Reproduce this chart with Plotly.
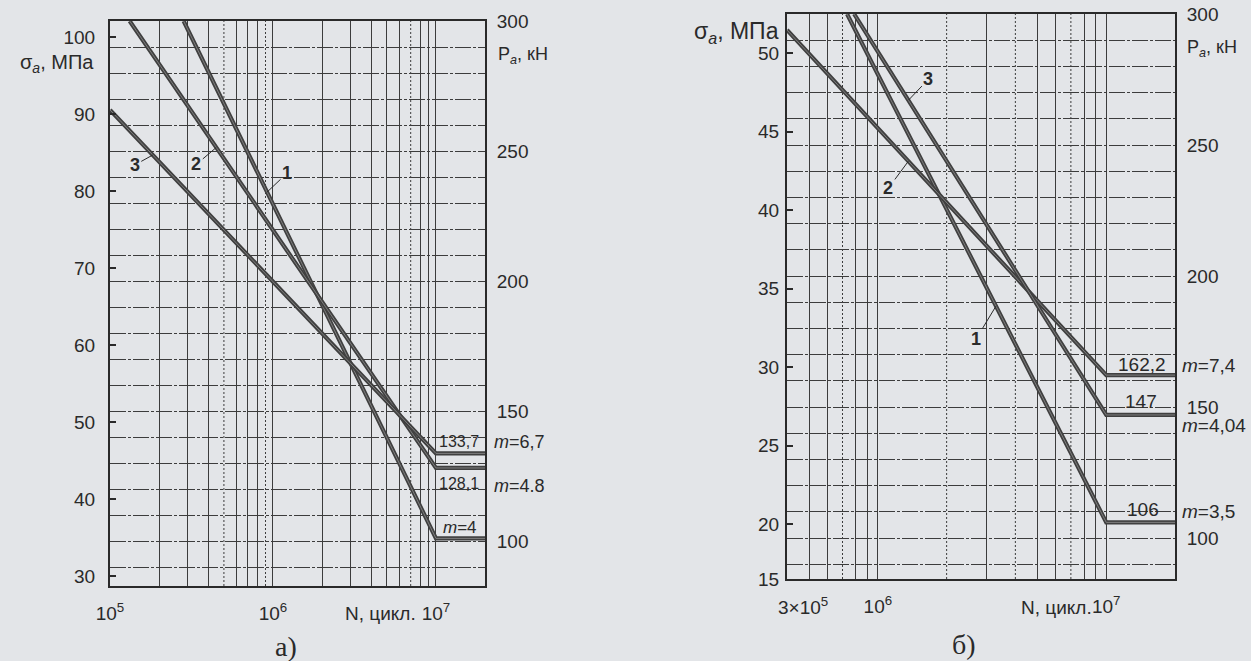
import numpy as np
import plotly.graph_objects as go

W, H = 1251, 661

# ---------------- data: chart a) ----------------
a_curve_labels = ["1", "2", "3"]
a_N_start = [2.83e5, 1.32e5, 1.0e5]
a_P_start = [300.0, 300.0, 265.8]
a_N_knee = [1e7, 1e7, 1e7]
a_P_knee = [101.0, 128.1, 133.7]
a_N_end = 2e7
a_x_range = [1e5, 2e7]
a_sigma_range = [28.7, 102.1]
a_P_range = [82.7, 300.0]
a_sigma_ticks = [30, 40, 50, 60, 70, 80, 90, 100]
a_P_grid = list(range(90, 301, 10))
a_P_labels = [100, 150, 200, 250, 300]
a_x_grid_solid = [2e5, 3e5, 4e5, 6e5, 7e5, 8e5, 1e6, 2e6, 3e6, 4e6, 5e6, 6e6, 8e6, 9e6, 1e7]
a_x_grid_dotted = [5e5, 9e5, 7e6]
a_x_labels = {1e5: "10<sup>5</sup>", 1e6: "10<sup>6</sup>", 1e7: "10<sup>7</sup>"}
a_leader_N = [9.2e5, 4.49e5, 1.83e5]
a_leader_off = [(20, -19), (-20, 17), (-18, 10)]

# ---------------- data: chart б) ----------------
b_curve_labels = ["1", "2", "3"]
b_N_start = [7.33e5, 4.0e5, 7.87e5]
b_P_start = [300.0, 293.9, 300.0]
b_N_knee = [1e7, 1e7, 1e7]
b_P_knee = [106.0, 162.2, 147.0]
b_N_end = 2e7
b_x_range = [4e5, 2e7]
b_sigma_range = [16.5, 52.5]
b_P_range = [84.4, 300.0]
b_sigma_tickvals = [16.5, 20, 25, 30, 35, 40, 45, 50]
b_sigma_ticktext = ["15", "20", "25", "30", "35", "40", "45", "50"]
b_P_grid = list(range(90, 301, 10))
b_P_labels = [100, 150, 200, 250, 300]
b_x_grid_solid = [5e5, 6e5, 8e5, 9e5, 1e6, 3e6, 5e6, 6e6, 8e6, 9e6, 1e7]
b_x_grid_dotted = [7e5, 2e6, 4e6, 7e6]
b_x_labels = {1e6: "10<sup>6</sup>", 1e7: "10<sup>7</sup>"}
b_leader_N = [3.29e6, 1.36e6, 1.36e6]
b_leader_off = [(-20, 33), (-20, 27), (20, -21)]

# ---------------- style ----------------
BG = "#e3e5e8"
INK = "#2a2a2a"
GRID = "#3c3c3c"
CURVE = "#404040"
CORE = "#7e7e7e"
FONT = "Liberation Sans, Arial, sans-serif"
HDASH = "16px,2px,3px,2px"

def px(xp):
    return xp / W

def py(yp):
    return 1 - yp / H

fig = go.Figure()

# invisible anchors so the σ axes exist as subplots
fig.add_trace(go.Scatter(x=a_x_range, y=a_sigma_range, mode="markers", xaxis="x", yaxis="y",
                         marker=dict(opacity=0, size=1), showlegend=False, hoverinfo="skip"))
fig.add_trace(go.Scatter(x=b_x_range, y=b_sigma_range, mode="markers", xaxis="x2", yaxis="y3",
                         marker=dict(opacity=0, size=1), showlegend=False, hoverinfo="skip"))

def add_curves(N0s, P0s, Nks, Pks, Nend, xa, ya):
    for N0, P0, Nk, Pk in zip(N0s, P0s, Nks, Pks):
        xs = [N0, Nk, Nend]
        ys = [P0, Pk, Pk]
        fig.add_trace(go.Scatter(x=xs, y=ys, mode="lines", xaxis=xa, yaxis=ya,
                                 line=dict(color=CURVE, width=4.2), showlegend=False,
                                 hoverinfo="skip"))
        fig.add_trace(go.Scatter(x=xs, y=ys, mode="lines", xaxis=xa, yaxis=ya,
                                 line=dict(color=CORE, width=1), showlegend=False,
                                 hoverinfo="skip"))

add_curves(a_N_start, a_P_start, a_N_knee, a_P_knee, a_N_end, "x", "y2")
add_curves(b_N_start, b_P_start, b_N_knee, b_P_knee, b_N_end, "x2", "y4")

def interp_P(N, N0, P0, N1, P1):
    t = (np.log10(N) - np.log10(N0)) / (np.log10(N1) - np.log10(N0))
    return P0 + t * (P1 - P0)

tickfont = dict(family=FONT, size=19, color=INK)
dom_a_x = [px(110), px(485)]
dom_a_y = [py(586), py(21)]
dom_b_x = [px(787), px(1175)]
dom_b_y = [py(579), py(14)]

def xaxis_def(dom, rng, solid, labels, anchor):
    vals = sorted(labels.keys())
    minor_vals = [v for v in solid if v not in labels]
    return dict(type="log", domain=dom, range=[np.log10(rng[0]), np.log10(rng[1])],
                anchor=anchor, tickmode="array", tickvals=vals,
                ticktext=[labels[v] for v in vals],
                showgrid=True, gridcolor=GRID, gridwidth=1.2, automargin=False,
                showline=True, mirror=True, linecolor=INK, linewidth=2,
                ticks="", tickfont=tickfont, ticklabelstandoff=9, zeroline=False,
                minor=dict(tickmode="array", tickvals=minor_vals, showgrid=True,
                           gridcolor=GRID, gridwidth=1.2, ticks=""))

def yP_def(rng, grid, labels, overlay, anchor):
    return dict(range=rng, overlaying=overlay, side="right", anchor=anchor,
                tickmode="array", tickvals=labels, automargin=False,
                showgrid=True, gridcolor=GRID, gridwidth=1.1, griddash=HDASH,
                minor=dict(tickmode="array", tickvals=[g for g in grid if g not in labels],
                           showgrid=True, gridcolor=GRID, gridwidth=1.1, griddash=HDASH,
                           ticks=""),
                showline=True, linecolor=INK, linewidth=2, ticks="",
                tickfont=tickfont, ticklabelstandoff=6, zeroline=False)

fig.update_layout(
    width=W, height=H, margin=dict(l=0, r=0, t=0, b=0, autoexpand=False),
    paper_bgcolor=BG, plot_bgcolor=BG, showlegend=False,
    xaxis=xaxis_def(dom_a_x, a_x_range, a_x_grid_solid, a_x_labels, "y"),
    yaxis=dict(domain=dom_a_y, range=a_sigma_range, anchor="x", tickmode="array",
               tickvals=a_sigma_ticks, showgrid=False, ticks="inside", ticklen=6,
               tickwidth=2, tickcolor=INK, showline=True, linecolor=INK, linewidth=2,
               tickfont=tickfont, ticklabelstandoff=9, zeroline=False, automargin=False),
    yaxis2=yP_def(a_P_range, a_P_grid, a_P_labels, "y", "x"),
    xaxis2=xaxis_def(dom_b_x, b_x_range, b_x_grid_solid, b_x_labels, "y3"),
    yaxis3=dict(domain=dom_b_y, range=b_sigma_range, anchor="x2", tickmode="array",
                tickvals=b_sigma_tickvals, ticktext=b_sigma_ticktext, showgrid=False,
                ticks="inside", ticklen=6, tickwidth=1.5, tickcolor=INK, showline=True,
                linecolor=INK, linewidth=2, tickfont=tickfont, ticklabelstandoff=2,
                zeroline=False, automargin=False),
    yaxis4=yP_def(b_P_range, b_P_grid, b_P_labels, "y3", "x2"),
)

# dotted vertical grid lines
shapes = []
for xs, xr in ((a_x_grid_dotted, "x"), (b_x_grid_dotted, "x2")):
    for v in xs:
        shapes.append(dict(type="line", xref=xr, yref=xr.replace("x", "y") if xr == "x" else "y3 domain",
                           x0=v, x1=v, y0=0, y1=1, layer="below",
                           line=dict(color=GRID, width=1, dash="2px,2px")))
shapes[0:len(a_x_grid_dotted)] = [dict(s, yref="y domain") for s in shapes[0:len(a_x_grid_dotted)]]

ann = []

def txt(x, y, text, size=15, xanchor="center", yanchor="middle", xref="paper",
        yref="paper", yshift=0, family=FONT):
    ann.append(dict(x=x, y=y, text=text, xref=xref, yref=yref, showarrow=False,
                    xanchor=xanchor, yanchor=yanchor, yshift=yshift,
                    font=dict(family=family, size=size, color=INK)))

# axis titles
txt(px(96), py(63), "σ<sub><i>a</i></sub>, МПа", size=20, xanchor="right")
txt(px(496), py(56), "P<sub><i>a</i></sub>, кН", size=18, xanchor="left")
txt(px(781), py(32), "σ<sub><i>a</i></sub>, МПа", size=23, xanchor="right")
txt(px(1185), py(48), "P<sub><i>a</i></sub>, кН", size=18, xanchor="left")
txt(px(418), py(613), "N, цикл.", size=19, xanchor="right")
txt(px(1094), py(607), "N, цикл.", size=19, xanchor="right")
txt(px(776), py(606), "3×10<sup>5</sup>", size=19, xanchor="left")
txt(px(286), py(646), "а)", size=28, family="Liberation Serif, Times New Roman, serif")
txt(px(964), py(644), "б)", size=28, family="Liberation Serif, Times New Roman, serif")

# knee labels, chart a)
txt(px(459), a_P_knee[2], "133,7", size=16, yref="y2", yshift=12)
txt(px(492), a_P_knee[2], "<i>m</i>=6,7", size=18, xanchor="left", yref="y2", yshift=11)
txt(px(459), a_P_knee[1], "128,1", size=16, yref="y2", yshift=-16)
txt(px(492), a_P_knee[1], "<i>m</i>=4.8", size=18, xanchor="left", yref="y2", yshift=-18)
txt(px(460), a_P_knee[0], "<i>m</i>=4", size=17, yref="y2", yshift=11)

# knee labels, chart б)
txt(px(1142), b_P_knee[1], "162,2", size=19, yref="y4", yshift=11)
txt(px(1180), b_P_knee[1], "<i>m</i>=7,4", size=19, xanchor="left", yref="y4", yshift=10)
txt(px(1141), b_P_knee[2], "147", size=19, yref="y4", yshift=13)
txt(px(1180), b_P_knee[2], "<i>m</i>=4,04", size=19, xanchor="left", yref="y4", yshift=-11)
txt(px(1143), b_P_knee[0], "106", size=19, yref="y4", yshift=13)
txt(px(1180), b_P_knee[0], "<i>m</i>=3,5", size=19, xanchor="left", yref="y4", yshift=11)

# curve number labels with leader lines
def leaders(labels, Ns, N0s, P0s, Nks, Pks, offs, xref, yref):
    for lab, N, N0, P0, Nk, Pk, (dx, dy) in zip(labels, Ns, N0s, P0s, Nks, Pks, offs):
        P = interp_P(N, N0, P0, Nk, Pk)
        ann.append(dict(x=np.log10(N), y=P, xref=xref, yref=yref, text="<b>%s</b>" % lab,
                        showarrow=True, arrowhead=0, arrowwidth=1, arrowcolor=INK,
                        ax=dx, ay=dy, font=dict(family=FONT, size=18, color=INK)))

leaders(a_curve_labels, a_leader_N, a_N_start, a_P_start, a_N_knee, a_P_knee,
        a_leader_off, "x", "y2")
leaders(b_curve_labels, b_leader_N, b_N_start, b_P_start, b_N_knee, b_P_knee,
        b_leader_off, "x2", "y4")

fig.update_layout(annotations=ann, shapes=shapes)
fig.write_html("out.html", config={"displayModeBar": False},
               post_script="document.body.style.margin='0';"
                           "document.body.style.background='%s';"
                           "document.body.style.overflow='hidden';" % BG)
